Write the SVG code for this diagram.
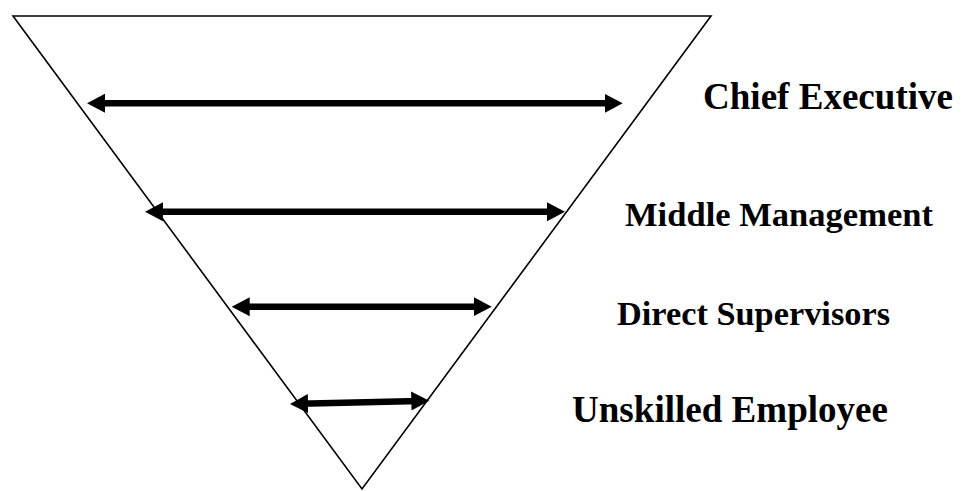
<svg xmlns="http://www.w3.org/2000/svg" width="962" height="491" viewBox="0 0 962 491">
<style>
.tri{fill:none;stroke:#000;stroke-width:1.6;stroke-linejoin:miter}
.arr{stroke:#000;stroke-width:6.5;fill:none;marker-start:url(#ah);marker-end:url(#ah)}
.lbl{font-family:"Liberation Serif","Times New Roman",serif;font-weight:bold;fill:#000}
</style>
<defs>
<marker id="ah" markerUnits="userSpaceOnUse" markerWidth="19" markerHeight="20" refX="8" refY="10" orient="auto-start-reverse" viewBox="0 0 19 20">
<path d="M0,0.5 L18,10 L0,19.5 Z" fill="#000"/>
</marker>
</defs>
<rect width="962" height="491" fill="#fff"/>
<g id="pyramid">
<path class="tri" d="M13,16 L711,16 L362,489 Z"/>
</g>
<g id="connectors">
<line class="arr" x1="97" y1="103.3" x2="612.7" y2="103.3"/>
<line class="arr" x1="155" y1="211.7" x2="555" y2="211.7"/>
<line class="arr" x1="241.7" y1="306.7" x2="481.7" y2="306.7"/>
<line class="arr" x1="300" y1="403.8" x2="419.3" y2="400.9"/>
</g>
<g id="chief-executive">
<text class="lbl" x="703" y="109" font-size="37" textLength="250" lengthAdjust="spacingAndGlyphs">Chief Executive</text>
</g>
<g id="middle-management">
<text class="lbl" x="625" y="226" font-size="34" textLength="308" lengthAdjust="spacingAndGlyphs">Middle Management</text>
</g>
<g id="direct-supervisors">
<text class="lbl" x="617" y="325" font-size="34" textLength="273" lengthAdjust="spacingAndGlyphs">Direct Supervisors</text>
</g>
<g id="unskilled-employee">
<text class="lbl" x="572" y="421.5" font-size="37" textLength="316" lengthAdjust="spacingAndGlyphs">Unskilled Employee</text>
</g>
</svg>
